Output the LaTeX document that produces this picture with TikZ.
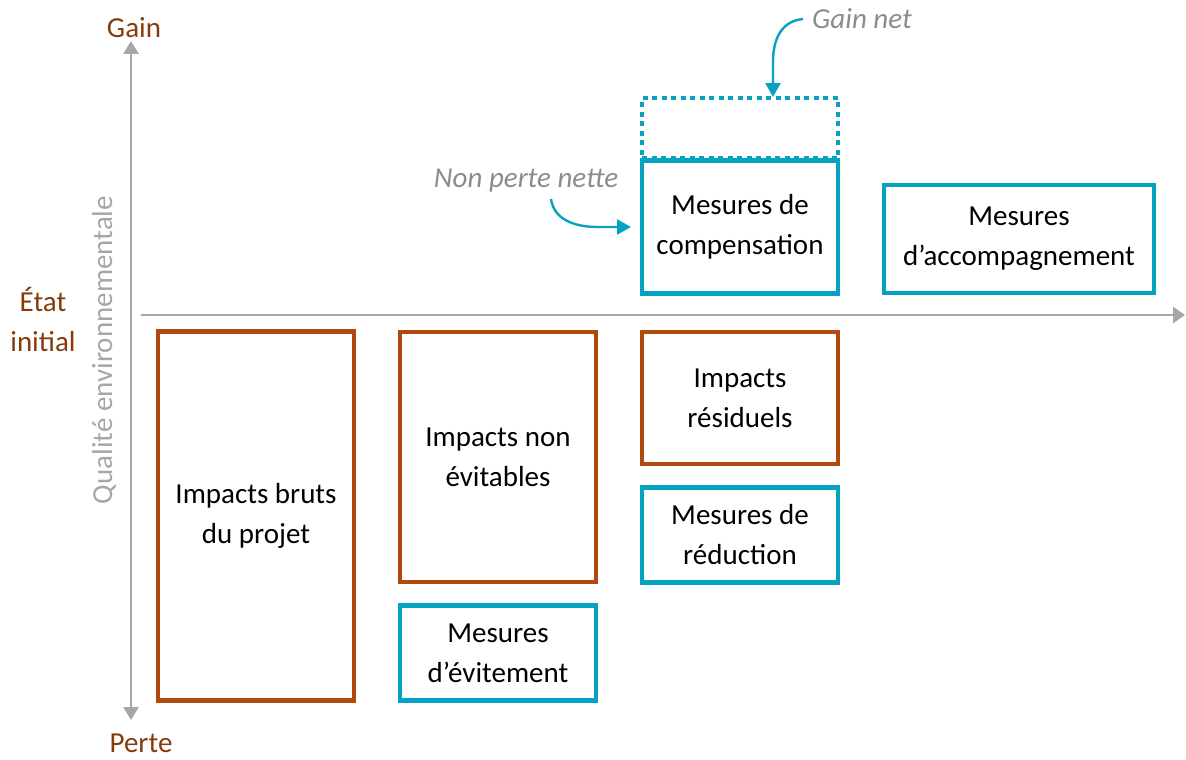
\documentclass[tikz,border=0pt]{standalone}
\usepackage{fontspec}
\setmainfont{Carlito}
\usetikzlibrary{arrows.meta}
\definecolor{brownbox}{HTML}{B04A0C}
\definecolor{browntext}{HTML}{843C0C}
\definecolor{teal}{HTML}{05A3C1}
\definecolor{axisgray}{HTML}{A6A6A6}
\definecolor{notegray}{HTML}{8C8C8C}
\tikzset{
  every node/.style={font=\fontsize{29}{40}\selectfont, align=center, inner sep=0pt},
  impactbox/.style={draw=brownbox, line width=4.5pt, text=black},
  mesurebox/.style={draw=teal, line width=4.5pt, text=black},
  gainbox/.style={draw=teal, line width=4pt, dash pattern=on 5pt off 4.5pt},
  axisline/.style={draw=axisgray, line width=2.8pt},
  notearrow/.style={draw=teal, line width=2.4pt, -{Triangle[length=14pt,width=15pt]}},
  note/.style={text=notegray, font=\fontsize{29}{40}\selectfont\itshape},
  axislabel/.style={text=browntext}
}
\begin{document}
\begin{tikzpicture}[x=1pt,y=-1pt]
\useasboundingbox (0,0) rectangle (1186,760);
% axes
\coordinate (vtop) at (131,41);
\coordinate (vbot) at (131,720);
\coordinate (hstart) at (141,315);
\coordinate (hend) at (1185,315);
\draw[axisline, {Triangle[length=13pt,width=15pt]}-{Triangle[length=13pt,width=15pt]}] (vtop) -- (vbot);
\draw[axisline, -{Triangle[length=12pt,width=16pt]}] (hstart) -- (hend);
% axis labels
\node[axislabel] (gain) at (134,28) {Gain};
\node[axislabel] (perte) at (141,743) {Perte};
\node[axislabel] (etat) at (43,319) {État\\initial};
\node[text=axisgray, rotate=90] (qual) at (104,350) {Qualité environnementale};
% boxes
\node[impactbox, minimum width=196pt, minimum height=369pt] (bruts) at (256,516) {Impacts bruts\\du projet};
\node[impactbox, minimum width=196pt, minimum height=250pt] (nonevit) at (498,457) {Impacts non\\évitables};
\node[mesurebox, minimum width=196pt, minimum height=95pt] (evit) at (498,653) {Mesures\\d’évitement};
\node[impactbox, minimum width=196pt, minimum height=132pt] (resid) at (740,398) {Impacts\\résiduels};
\node[mesurebox, minimum width=196pt, minimum height=95pt] (reduc) at (740,535) {Mesures de\\réduction};
\node[gainbox, minimum width=196pt, minimum height=60pt] (gainnet) at (740,128) {};
\node[mesurebox, minimum width=196pt, minimum height=133pt] (comp) at (740,227) {Mesures de\\compensation};
\node[mesurebox, minimum width=270pt, minimum height=108pt] (accomp) at (1019,239) {Mesures\\d’accompagnement};
% notes
\node[note] (gaintxt) at (862,19) {Gain net};
\node[note] (nptxt) at (526,181) {Non perte nette};
\coordinate (g1) at (803,19);
\coordinate (gtip) at (773,97);
\draw[notearrow] (g1) .. controls (782,21) and (773,38) .. (773,62) -- (gtip);
\coordinate (n1) at (551,199);
\coordinate (ntip) at (631,227);
\draw[notearrow] (n1) .. controls (554,220) and (575,227) .. (598,227) -- (ntip);
\end{tikzpicture}
\end{document}
